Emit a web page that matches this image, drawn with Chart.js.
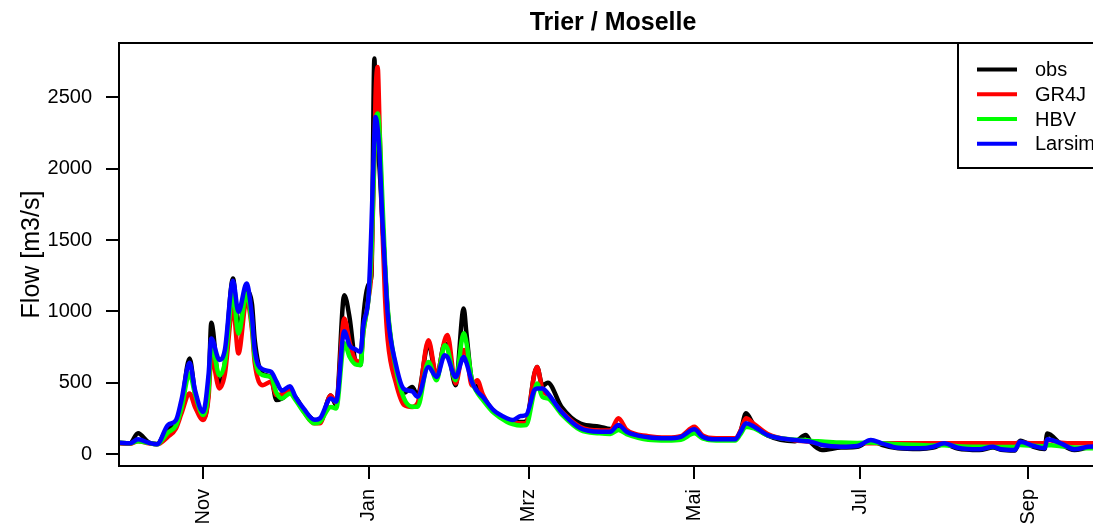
<!DOCTYPE html>
<html lang="de">
<head>
  <meta charset="UTF-8">
  <title>Trier / Moselle</title>
  <script src="https://cdn.jsdelivr.net/npm/chart.js"></script>
  <style>
    html, body { margin: 0; padding: 0; overflow: hidden; background: #fff; }
    canvas { display: block; }
  </style>
</head>
<body>
  <canvas id="flowChart" width="1130" height="530"></canvas>

  <script>
    // day 0 = 1. Okt (hydrologisches Jahr)
    const days = [0, 4, 7, 11, 14, 18, 21, 23, 26, 28,
      31, 33, 34, 37, 39, 42, 44, 47, 49, 50,
      53, 56, 58, 60, 63, 65, 68, 72, 74, 78,
      80, 83, 85, 87, 89, 90, 92, 93, 94.1, 94.5,
      95.3, 96, 97, 98, 99, 102, 105, 108, 110, 114,
      117, 120, 121, 124, 127, 128, 130, 132, 134, 138,
      143, 145, 148, 150, 153, 154, 156, 158, 163, 170,
      177, 181, 184, 187, 195, 202, 207, 212, 215, 220,
      227, 229, 231, 234, 239, 249, 253, 255, 259, 266,
      272, 277, 281, 287, 295, 300, 304, 309, 317, 322,
      325, 330, 332, 337, 341, 342, 347, 352, 357, 364];

    const obs = [79, 75, 145, 80, 70, 180, 200, 330, 670, 430,
      255, 450, 920, 470, 640, 1231, 868, 1140, 1050, 800,
      560, 540, 378, 390, 430, 400, 310, 235, 225, 410,
      343, 1114, 950, 660, 624, 950, 1190, 1250, 2773, 2450,
      2150, 2000, 1650, 1300, 1000, 580, 430, 470, 413, 775,
      540, 775, 760, 483, 1021, 846, 518, 470, 390, 300,
      240, 225, 225, 230, 560, 610, 480, 500, 331, 213,
      192, 175, 190, 150, 115, 105, 115, 185, 115, 100,
      100, 160, 285, 200, 130, 90, 133, 80, 28, 45,
      50, 95, 65, 40, 35, 45, 70, 38, 28, 45,
      30, 25, 93, 50, 35, 144, 70, 28, 45, 50];

    const gr4j = [75, 72, 90, 75, 68, 121, 180, 284, 425, 330,
      238, 400, 682, 460, 560, 1032, 705, 1080, 870, 640,
      483, 507, 413, 420, 450, 390, 300, 215, 215, 410,
      360, 951, 780, 660, 647, 850, 1100, 1300, 2100, 2500,
      2714, 2300, 1600, 1100, 800, 500, 344, 330, 355, 798,
      552, 800, 834, 495, 730, 700, 480, 518, 420, 300,
      235, 225, 215, 215, 560, 610, 450, 413, 300, 190,
      165, 165, 250, 170, 125, 115, 125, 192, 130, 110,
      110, 165, 250, 210, 140, 95, 90, 85, 78, 75,
      75, 75, 75, 75, 75, 75, 75, 75, 75, 75,
      75, 75, 80, 75, 75, 98, 80, 75, 75, 75];

    const hbv = [78, 75, 90, 78, 68, 150, 200, 320, 565, 420,
      273, 450, 775, 553, 640, 1125, 845, 1125, 900, 680,
      553, 540, 430, 390, 425, 380, 296, 215, 225, 330,
      320, 776, 680, 630, 624, 850, 1100, 1400, 2100, 2300,
      2387, 2250, 1800, 1350, 1020, 600, 390, 332, 332, 645,
      517, 763, 740, 517, 846, 780, 517, 430, 380, 290,
      225, 210, 200, 203, 440, 495, 400, 390, 280, 168,
      145, 140, 168, 140, 100, 95, 100, 145, 110, 95,
      95, 140, 192, 180, 130, 100, 98, 92, 88, 80,
      78, 80, 75, 68, 63, 60, 62, 55, 51, 50,
      50, 50, 63, 58, 55, 63, 55, 45, 40, 45];

    const larsim = [79, 75, 103, 79, 68, 203, 238, 378, 640, 448,
      296, 560, 810, 660, 730, 1215, 997, 1195, 960, 730,
      594, 577, 510, 444, 476, 401, 320, 240, 250, 390,
      367, 860, 760, 735, 717, 900, 1126, 1593, 2250, 2364,
      2280, 2100, 1650, 1300, 980, 630, 455, 440, 401, 610,
      540, 692, 680, 540, 680, 640, 507, 440, 401, 308,
      250, 238, 266, 273, 448, 460, 460, 425, 296, 180,
      156, 156, 203, 156, 117, 110, 121, 173, 121, 103,
      103, 156, 215, 192, 133, 98, 90, 85, 63, 51,
      56, 98, 75, 44, 40, 51, 75, 44, 33, 51,
      33, 28, 86, 56, 40, 103, 75, 33, 51, 55];

    const monthDays = [31, 92, 151, 212, 273, 335];
    const monthLabels = ['Nov', 'Jan', 'Mrz', 'Mai', 'Jul', 'Sep'];
    const yTicks = [0, 500, 1000, 1500, 2000, 2500];

    const FONT = '"Liberation Sans", Arial, sans-serif';

    function toPoints(values) {
      return days.map((d, i) => ({ x: d, y: values[i] }));
    }

    // Rahmen, Titel und Legende wie im R-Plot
    const rStyle = {
      id: 'rStyle',
      afterDatasetsDraw(chart) {
        const { ctx, chartArea: a } = chart;
        ctx.save();
        ctx.strokeStyle = '#000';
        ctx.lineWidth = 2;
        ctx.strokeRect(a.left, a.top, a.right - a.left, a.bottom - a.top);

        ctx.fillStyle = '#000';
        ctx.font = 'bold 25px ' + FONT;
        ctx.textAlign = 'center';
        ctx.textBaseline = 'alphabetic';
        ctx.fillText('Trier / Moselle', (a.left + a.right) / 2, 30);

        // legend
        const w = 149, h = 125;
        const lx = a.right - w, ly = a.top;
        ctx.fillStyle = '#fff';
        ctx.fillRect(lx, ly, w, h);
        ctx.strokeRect(lx, ly, w, h);
        ctx.font = '20px ' + FONT;
        ctx.textAlign = 'left';
        ctx.textBaseline = 'middle';
        chart.data.datasets.forEach((ds, i) => {
          const y = ly + 26.6 + i * 24.7;
          ctx.strokeStyle = ds.borderColor;
          ctx.lineWidth = 4;
          ctx.beginPath();
          ctx.moveTo(lx + 19, y);
          ctx.lineTo(lx + 59, y);
          ctx.stroke();
          ctx.fillStyle = '#000';
          ctx.fillText(ds.label, lx + 77, y + 1);
        });
        ctx.restore();
      }
    };

    const ctx = document.getElementById('flowChart').getContext('2d');
    new Chart(ctx, {
      type: 'line',
      data: {
        datasets: [
          { label: 'obs', data: toPoints(obs), borderColor: '#000000', order: 3 },
          { label: 'GR4J', data: toPoints(gr4j), borderColor: '#FF0000', order: 2 },
          { label: 'HBV', data: toPoints(hbv), borderColor: '#00FF00', order: 1 },
          { label: 'Larsim', data: toPoints(larsim), borderColor: '#0000FF', order: 0 }
        ]
      },
      options: {
        responsive: false,
        animation: false,
        layout: { padding: { top: 43, right: 23, left: 0, bottom: 0 } },
        elements: {
          point: { radius: 0 },
          line: { borderWidth: 4.5, cubicInterpolationMode: 'monotone', fill: false }
        },
        plugins: {
          legend: { display: false },
          title: { display: false },
          tooltip: { enabled: false }
        },
        scales: {
          x: {
            type: 'linear',
            min: 0,
            max: 364,
            afterBuildTicks: s => { s.ticks = monthDays.map(v => ({ value: v })); },
            afterFit: s => { s.height = 64; },
            ticks: {
              callback: (v, i) => monthLabels[i],
              minRotation: 90,
              maxRotation: 90,
              autoSkip: false,
              padding: 10,
              color: '#000',
              font: { size: 20, family: FONT }
            },
            grid: { drawOnChartArea: false, color: '#000', lineWidth: 2, tickLength: 13 },
            border: { display: false }
          },
          y: {
            type: 'linear',
            min: -84,
            max: 2882,
            afterBuildTicks: s => { s.ticks = yTicks.map(v => ({ value: v })); },
            afterFit: s => { s.width = 119; },
            ticks: {
              callback: v => String(v),
              padding: 14,
              color: '#000',
              font: { size: 20, family: FONT }
            },
            grid: { drawOnChartArea: false, color: '#000', lineWidth: 2, tickLength: 13 },
            border: { display: false },
            title: {
              display: true,
              text: 'Flow [m3/s]',
              color: '#000',
              font: { size: 25, family: FONT },
              padding: { top: 17, bottom: 0 }
            }
          }
        }
      },
      plugins: [rStyle]
    });
  </script>
</body>
</html>
